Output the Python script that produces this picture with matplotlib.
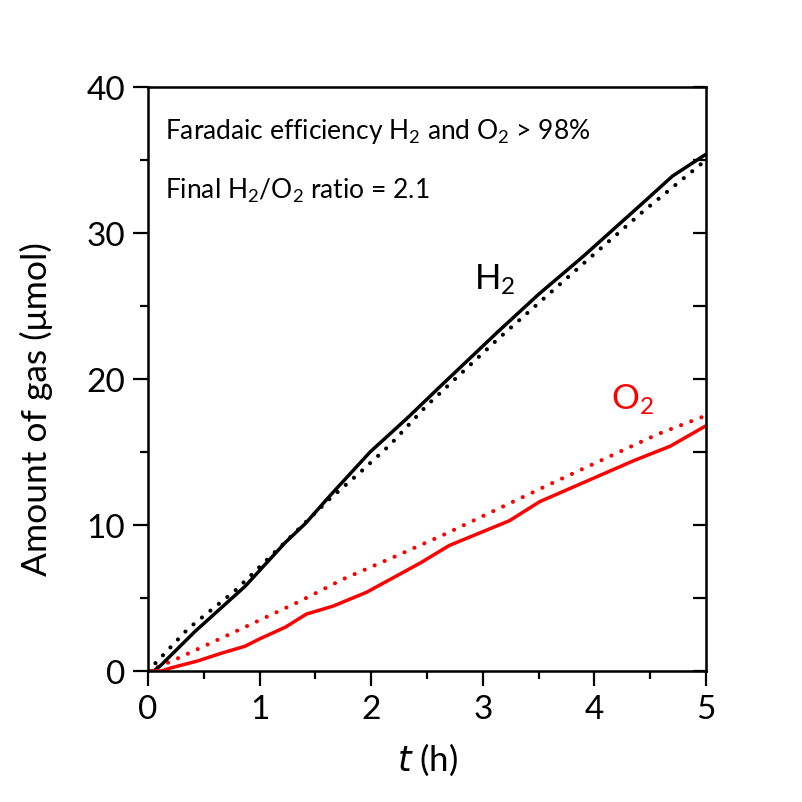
import matplotlib
matplotlib.use("Agg")
import matplotlib.pyplot as plt

plt.rcParams['font.family'] = ['Lato', 'DejaVu Sans']
plt.rcParams['mathtext.default'] = 'regular'

# measured H2 (solid) and expected H2 (dotted)
h2_t = [0, 0.05, 0.11, 0.42, 0.87, 1.05, 1.23, 1.41, 1.63, 1.99, 2.32, 2.62, 3.13, 3.5, 3.9, 4.44, 4.7, 5.0]
h2_v = [0, 0, 0.35, 2.7, 5.8, 7.3, 8.8, 10.1, 12.0, 15.0, 17.3, 19.5, 23.2, 25.8, 28.4, 32.1, 33.9, 35.4]
h2_theo_t = [0, 0.36, 0.78, 1.05, 1.63, 1.9, 2.17, 2.5, 3.13, 3.9, 4.44, 5.0]
h2_theo_v = [0, 2.9, 5.5, 7.5, 11.8, 13.6, 15.5, 18.2, 22.7, 27.9, 31.5, 35.0]

# measured O2 (solid) and expected O2 (dotted)
o2_t = [0, 0.12, 0.2, 0.45, 0.65, 0.87, 1.0, 1.23, 1.42, 1.66, 1.96, 2.2, 2.44, 2.7, 3.24, 3.51, 3.93, 4.35, 4.68, 5.0]
o2_v = [0, 0, 0.2, 0.7, 1.2, 1.7, 2.2, 3.0, 3.9, 4.45, 5.4, 6.4, 7.4, 8.6, 10.3, 11.6, 13.0, 14.4, 15.4, 16.8]
o2_theo_t = [0, 0.22, 0.67, 1.34, 1.75, 2.2, 2.64, 3.63, 4.56, 5.0]
o2_theo_v = [0, 0.7, 2.3, 4.7, 6.3, 7.8, 9.3, 12.9, 16.2, 17.5]

fig = plt.figure(figsize=(8.02, 8.03), dpi=100)
ax = fig.add_axes([0.1845, 0.1631, 0.6958, 0.7273])

dots = (0, (0.01, 2.6))
ax.plot(h2_theo_t, h2_theo_v, color='black', lw=3.0, linestyle=dots, dash_capstyle='round')
ax.plot(o2_theo_t, o2_theo_v, color='red', lw=3.0, linestyle=dots, dash_capstyle='round')
ax.plot(h2_t, h2_v, color='black', lw=2.5, solid_capstyle='butt')
ax.plot(o2_t, o2_v, color='red', lw=2.5, solid_capstyle='butt')

ax.set_xlim(0, 5)
ax.set_ylim(0, 40)
ax.set_xticks([0, 1, 2, 3, 4, 5])
ax.set_xticks([0.5, 1.5, 2.5, 3.5, 4.5], minor=True)
ax.set_yticks([0, 10, 20, 30, 40])
ax.set_yticks([5, 15, 25, 35], minor=True)
ax.tick_params(which='both', direction='out', width=1.6, labelsize=24, pad=6,
               top=False, right=False)
ax.tick_params(which='major', length=10.5)
ax.tick_params(which='minor', length=6)
for s in ax.spines.values():
    s.set_linewidth(1.8)

# inward ticks on the right side
ax2 = ax.twinx()
ax2.set_ylim(0, 40)
ax2.set_yticks([0, 5, 10, 15, 20, 25, 30, 35, 40])
ax2.tick_params(direction='in', length=9.5, width=1.6, labelright=False)

ax.set_xlabel('$\\it{t}$ (h)', fontsize=25, labelpad=12)
ax.set_ylabel('Amount of gas (\u03bcmol)', fontsize=25.5)
ax.yaxis.set_label_coords(-0.17, 0.45)

ax.text(0.03, 0.912, 'Faradaic efficiency H$_2$ and O$_2$ > 98%', transform=ax.transAxes,
        fontsize=19, va='baseline')
ax.text(0.03, 0.81, 'Final H$_2$/O$_2$ ratio = 2.1', transform=ax.transAxes,
        fontsize=19, va='baseline')
ax.text(2.92, 26.2, 'H$_2$', fontsize=25, color='black', va='baseline')
ax.text(4.15, 18.0, 'O$_2$', fontsize=25, color='red', va='baseline')

fig.savefig('out.png', dpi=100)
